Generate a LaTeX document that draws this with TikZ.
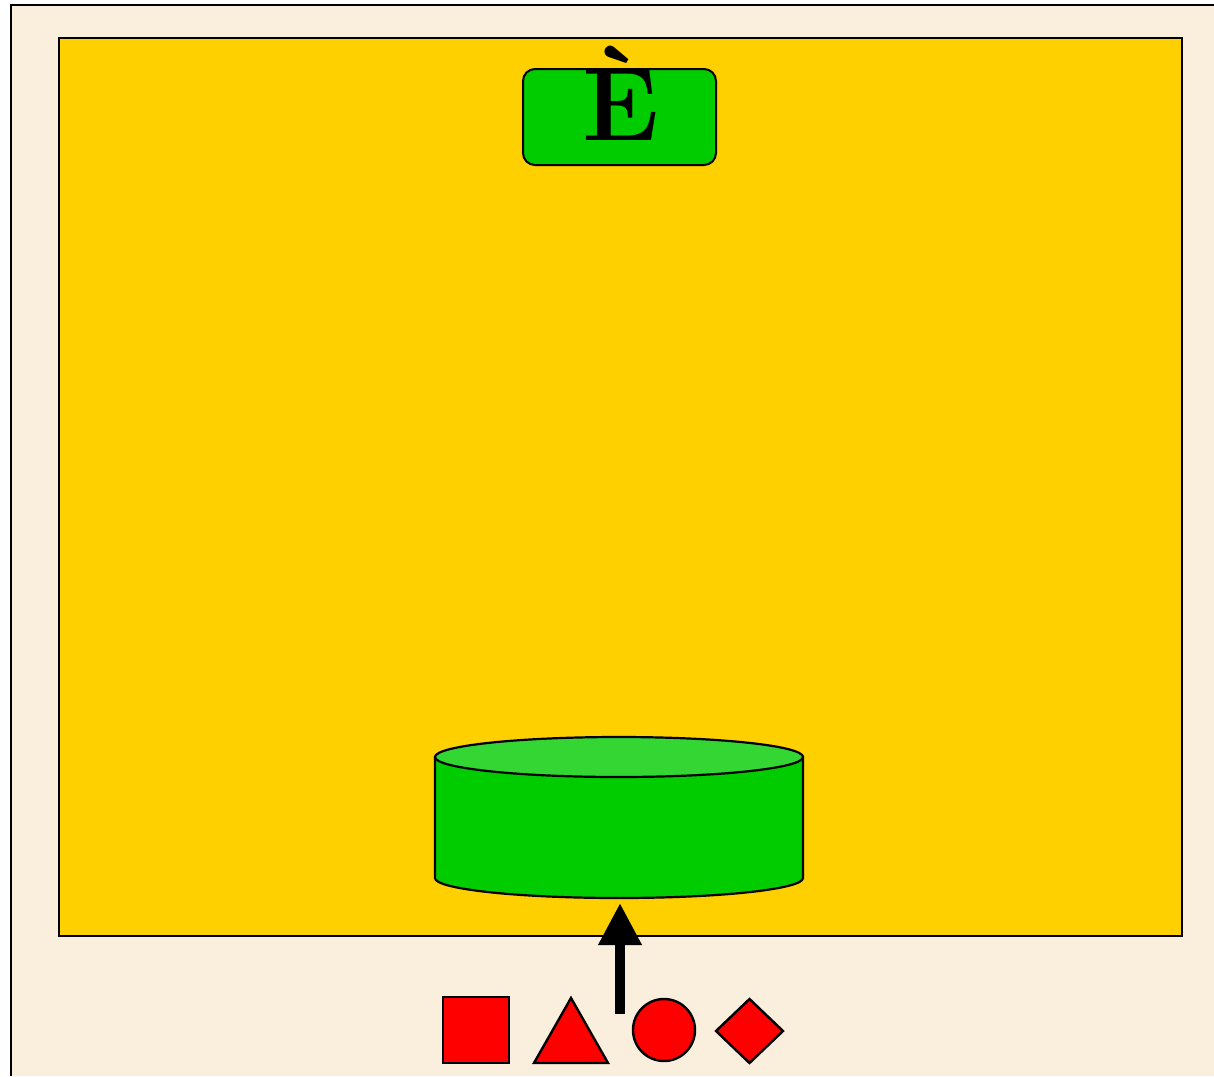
\documentclass[tikz,border=0pt]{standalone}
\usetikzlibrary{arrows.meta,shapes.geometric}
\definecolor{parch}{RGB}{250,239,220}
\definecolor{goldbg}{RGB}{255,208,0}
\definecolor{boxgreen}{RGB}{0,204,0}
\definecolor{topgreen}{RGB}{51,214,51}
\definecolor{shapered}{RGB}{255,0,0}
\tikzset{
  panel/.style={fill=goldbg,draw=black,line width=2pt},
  labelbox/.style={rectangle,rounded corners=12pt,fill=boxgreen,draw=black,line width=2pt,minimum width=193pt,minimum height=96pt,inner sep=0pt,outer sep=0pt},
  cylline/.style={draw=black,line width=2.2pt},
  redshape/.style={fill=shapered,draw=black,line width=2.4pt,inner sep=0pt,outer sep=0pt},
  bigarrow/.style={line width=10pt,-{Triangle[width=41pt,length=42pt]}}
}
\begin{document}
\begin{tikzpicture}[x=1pt,y=-1pt]
\useasboundingbox (0,0) rectangle (1214,1076);
% parchment background
\fill[parch] (11,5) rectangle (1214,1076);
\draw[black,line width=2pt] (11,1076) -- (11,5) -- (1214,5);
% yellow panel
\path[panel] (59,38) rectangle (1182,936);
% label box
\node[labelbox] (lbox) at (619.5,117) {};
\node[anchor=base,inner sep=0pt] (ltext) at (621,140) {\fontsize{104}{104}\selectfont\bfseries È};
% cylinder
\path[cylline,fill=boxgreen] (435,757) -- (435,878) arc[start angle=180,end angle=0,x radius=184,y radius=20] -- (803,757) -- cycle;
\path[cylline,fill=topgreen] (619,757) ellipse[x radius=184,y radius=20];
\node[inner sep=0pt,outer sep=0pt,minimum width=368pt,minimum height=161pt] (cyl) at (619,817.5) {};
% arrow
\coordinate (astart) at (620,1014);
\draw[bigarrow] (astart) -- ([yshift=-5pt]cyl.south -| astart);
% red shapes
\node[redshape,rectangle,minimum width=66pt,minimum height=66pt] (sq) at (476,1030) {};
\path[redshape,line join=miter] (534,1063) -- (571,998) -- (608,1063) -- cycle;
\coordinate (tri) at (571,1030);
\node[redshape,circle,minimum size=62pt] (circ) at (664,1030) {};
\node[redshape,diamond,minimum width=67pt,minimum height=64pt] (dia) at (749.5,1031) {};
\end{tikzpicture}
\end{document}
